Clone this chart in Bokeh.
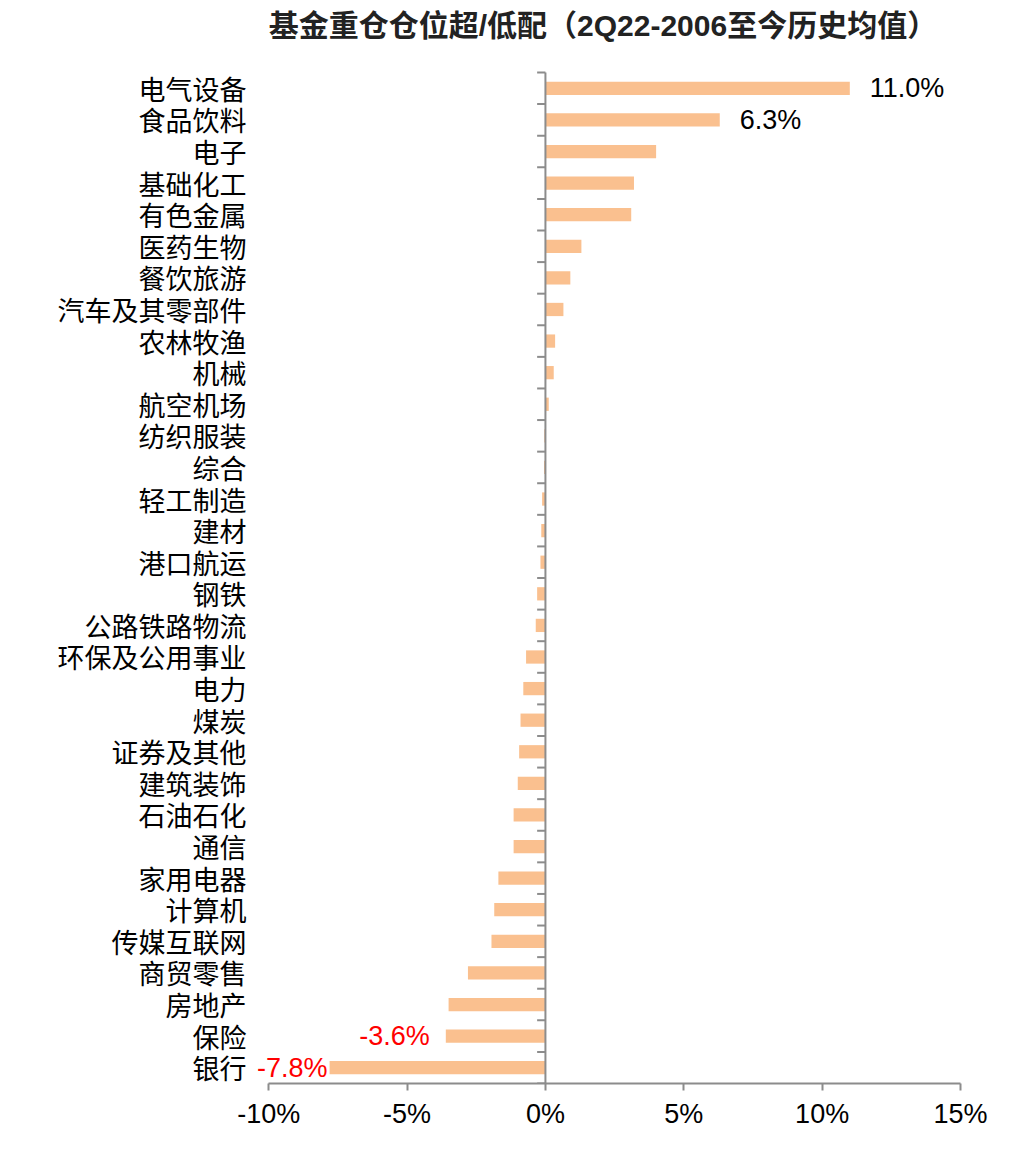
from bokeh.plotting import figure
from bokeh.models import (Range1d, FixedTicker, PrintfTickFormatter, ColumnDataSource, Label)
from bokeh.embed import file_html
from bokeh.resources import INLINE

categories = ["电气设备", "食品饮料", "电子", "基础化工", "有色金属", "医药生物", "餐饮旅游",
              "汽车及其零部件", "农林牧渔", "机械", "航空机场", "纺织服装", "综合", "轻工制造",
              "建材", "港口航运", "钢铁", "公路铁路物流", "环保及公用事业", "电力", "煤炭",
              "证券及其他", "建筑装饰", "石油石化", "通信", "家用电器", "计算机", "传媒互联网",
              "商贸零售", "房地产", "保险", "银行"]
values = [11.0, 6.3, 4.0, 3.2, 3.1, 1.3, 0.9, 0.65, 0.35, 0.3, 0.12, -0.04, -0.05, -0.12,
          -0.15, -0.18, -0.3, -0.35, -0.7, -0.8, -0.9, -0.95, -1.0, -1.15, -1.15, -1.7,
          -1.85, -1.95, -2.8, -3.5, -3.6, -7.8]
labeled = ["电气设备", "食品饮料", "保险", "银行"]
x_ticks = [-10, -5, 0, 5, 10, 15]
title_text = "基金重仓仓位超/低配（2Q22-2006至今历史均值）"

n = len(categories)
ys = [n - 1 - i for i in range(n)]

LAT = "'Liberation Sans', 'Noto Sans CJK SC'"
CJK = "'Noto Sans CJK SC'"
GRAY = "#8c8c8c"
BAR = "#FAC08F"

# extra room inside the frame: left for the outermost label, top for the title
x_lo = x_ticks[0] - 0.55
y_top = n - 0.5 + 2.28

p = figure(width=1000, height=1140, output_backend="svg", toolbar_location=None,
           x_range=Range1d(x_lo, x_ticks[-1]), y_range=Range1d(-0.5, y_top),
           min_border_left=253, min_border_right=40, min_border_top=0, min_border_bottom=57)
p.outline_line_color = None
p.grid.grid_line_color = None

# title
p.add_layout(Label(x=x_ticks[0], y=n - 0.5 + 1.49, text=title_text, text_align="left",
                   text_baseline="middle", text_font=LAT, text_font_size="30px",
                   text_font_style="bold", text_color="#222222"))

src = ColumnDataSource(dict(y=ys, v=values))
p.hbar(y="y", left=0, right="v", height=0.42, source=src, fill_color=BAR, line_color=None)

# zero axis line with category separators
p.segment(x0=[0], x1=[0], y0=[-0.5], y1=[n - 0.5], line_color=GRAY, line_width=2)
bounds = [k - 0.5 for k in range(n + 1)]
p.segment(x0=[0] * len(bounds), x1=[-0.3] * len(bounds), y0=bounds, y1=bounds,
          line_color=GRAY, line_width=2)

# data labels
neg_off = {"保险": -16, "银行": -2}
for c in labeled:
    i = categories.index(c)
    v = values[i]
    if v >= 0:
        align, color, off = "left", "#000000", 20
    else:
        align, color, off = "right", "#FF0000", neg_off.get(c, -10)
    p.add_layout(Label(x=v, y=ys[i], text=f"{v:.1f}%", text_align=align, text_color=color,
                       x_offset=off, text_baseline="middle", text_font=LAT,
                       text_font_size="27px"))

# x axis
xa = p.xaxis[0]
xa.bounds = (x_ticks[0], x_ticks[-1])
xa.ticker = FixedTicker(ticks=x_ticks)
xa.formatter = PrintfTickFormatter(format="%d%%")
xa.axis_line_color = GRAY
xa.axis_line_width = 2
xa.major_tick_line_color = GRAY
xa.major_tick_line_width = 2
xa.major_tick_in = 0
xa.major_tick_out = 7
xa.minor_tick_line_color = None
xa.major_label_text_font = LAT
xa.major_label_text_font_size = "27px"
xa.major_label_text_color = "#000000"
xa.major_label_standoff = 8

# y axis (category labels)
ya = p.yaxis[0]
ya.ticker = FixedTicker(ticks=ys)
ya.major_label_overrides = {y: categories[i] for i, y in enumerate(ys)}
ya.axis_line_color = None
ya.major_tick_line_color = None
ya.minor_tick_line_color = None
ya.major_label_text_font = CJK
ya.major_label_text_font_size = "27px"
ya.major_label_text_color = "#000000"
ya.major_label_standoff = 1

open("out.html", "w").write(file_html(p, INLINE))
